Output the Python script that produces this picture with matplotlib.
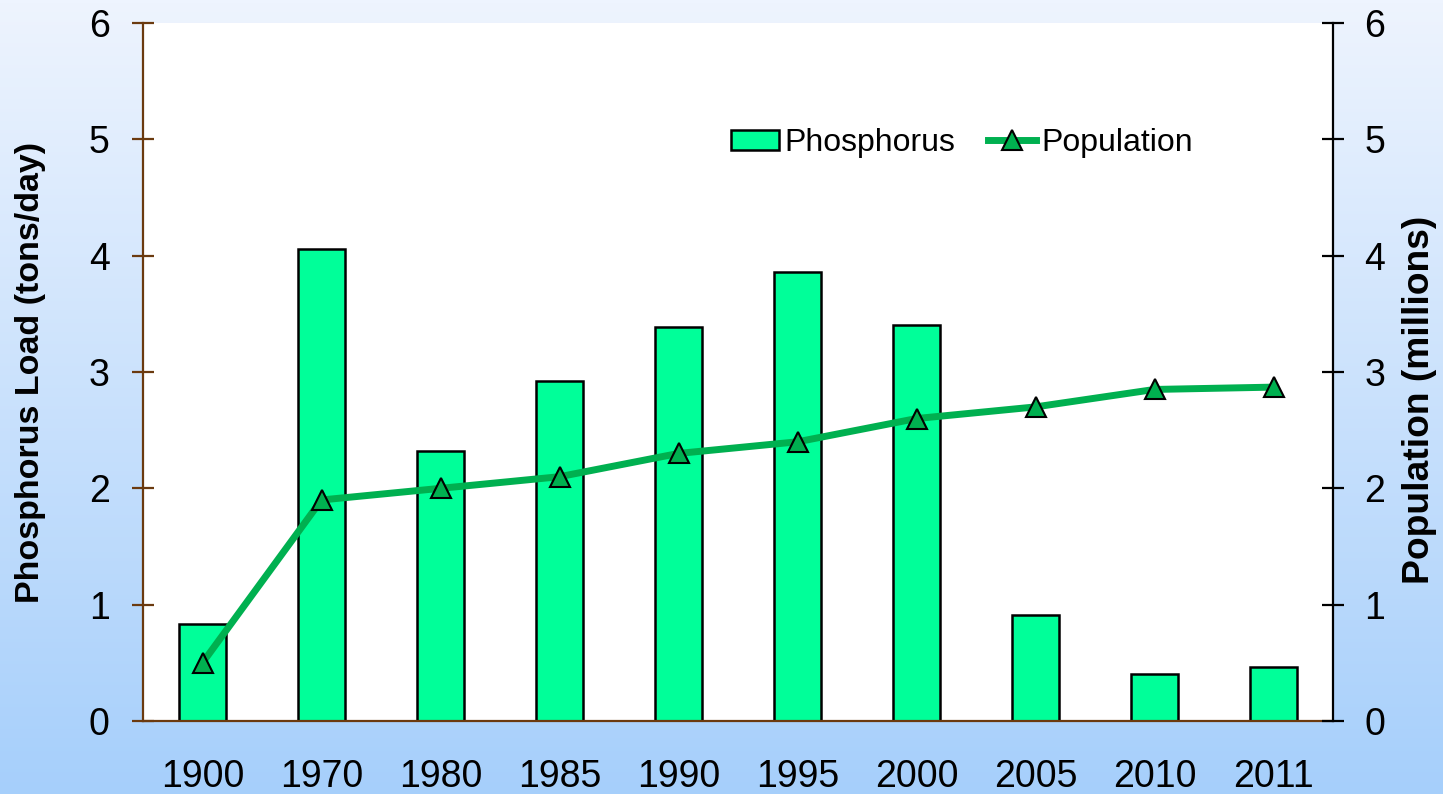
import numpy as np
import matplotlib
matplotlib.use("Agg")
import matplotlib.pyplot as plt
from matplotlib.colors import LinearSegmentedColormap

plt.rcParams['font.family'] = ['Liberation Sans', 'DejaVu Sans']

years = ["1900", "1970", "1980", "1985", "1990", "1995", "2000", "2005", "2010", "2011"]
phosphorus = [0.83, 4.06, 2.32, 2.92, 3.39, 3.86, 3.40, 0.91, 0.40, 0.46]
population = [0.50, 1.90, 2.00, 2.10, 2.30, 2.40, 2.60, 2.70, 2.85, 2.87]

W, H = 1443, 794
fig = plt.figure(figsize=(W / 100, H / 100), dpi=100)

# gradient background
bg = fig.add_axes([0, 0, 1, 1], zorder=-10)
cmap = LinearSegmentedColormap.from_list("bg", ["#EEF4FE", "#A6CFFB"])
bg.imshow(np.linspace(0, 1, 256).reshape(-1, 1), aspect='auto', cmap=cmap,
          extent=[0, 1, 0, 1], origin='upper')
bg.axis('off')

left, right, top, bottom = 143, 1333, 23, 721
ax = fig.add_axes([left / W, 1 - bottom / H, (right - left) / W, (bottom - top) / H])
ax.set_facecolor('white')
x = np.arange(len(years))
bars = ax.bar(x, phosphorus, width=0.4, color='#00FF99', edgecolor='black',
              linewidth=1.8, label='Phosphorus', zorder=2)
ax.set_xlim(-0.5, len(years) - 0.5)
ax.set_ylim(0, 6)
ax.set_yticks(range(0, 7))
ax.set_xticks(x)
ax.set_xticklabels(years)
brown = '#6B3A0F'
for s in ['top', 'right']:
    ax.spines[s].set_visible(False)
ax.spines['left'].set_color(brown)
ax.spines['bottom'].set_color(brown)
ax.spines['left'].set_linewidth(1.6)
ax.spines['bottom'].set_linewidth(1.6)
ax.tick_params(axis='y', direction='inout', length=16, width=1.6, color=brown,
               labelsize=27, pad=16)
ax.tick_params(axis='x', length=0, labelsize=27, pad=27.5)
ax.set_ylabel('Phosphorus Load (tons/day)', fontsize=24.5, fontweight='bold')
ax.yaxis.set_label_coords((46 - left) / (right - left), 0.5)

ax2 = ax.twinx()
ln, = ax2.plot(x, population, color='#00B050', linewidth=5, marker='^',
               markersize=14, markerfacecolor='#00B050', markeredgecolor='black',
               markeredgewidth=1.5, label='Population', zorder=3)
ax2.set_ylim(0, 6)
ax2.set_yticks(range(0, 7))
for s in ['top', 'left', 'bottom']:
    ax2.spines[s].set_visible(False)
ax2.spines['right'].set_color('black')
ax2.spines['right'].set_linewidth(1.6)
ax2.tick_params(axis='y', direction='inout', length=16, width=1.6, color='black',
                labelsize=27, pad=14.5)
ax2.set_ylabel('Population (millions)', fontsize=26.8, fontweight='bold')
ax2.yaxis.set_label_coords((1402 - left) / (right - left), 1 - (400 - top) / (bottom - top))

leg = ax2.legend([bars, ln], ['Phosphorus', 'Population'], loc='center',
                 bbox_to_anchor=((962 - left) / (right - left), 1 - (143 - top) / (bottom - top)),
                 ncol=2, frameon=False, fontsize=23, handlelength=1.5,
                 handleheight=0.6, handletextpad=0.19, columnspacing=1.0)

fig.savefig('out.png', dpi=100)
